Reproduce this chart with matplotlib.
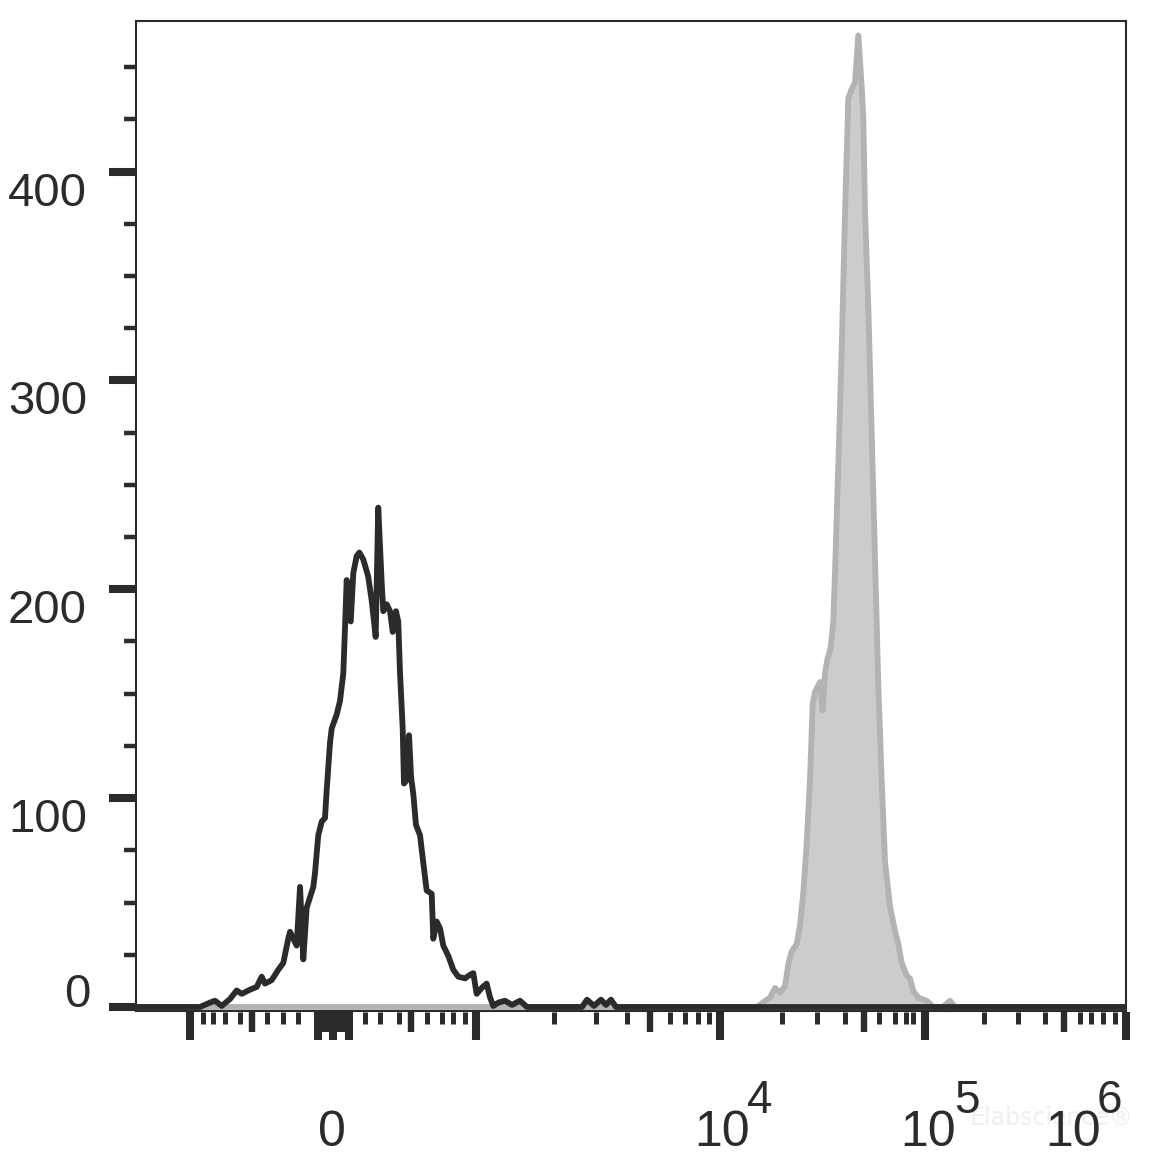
import matplotlib
matplotlib.use('Agg')
import matplotlib.pyplot as plt

# x is the display channel of the biexponential axis (0 .. 1000 across the plot)
black_x = [0, 64.6, 74.7, 79.8, 86.6, 94.9, 101.7, 106.8, 115.2, 121.9,
           127.0, 130.3, 137.1, 143.7, 148.8, 153.8, 155.6, 162.3, 165.7, 169.0,
           172.4, 179.1, 180.8, 184.1, 187.6, 190.9, 192.6, 196.0, 197.7, 202.7,
           206.1, 209.4, 211.1, 212.8, 216.9, 219.5, 222.9, 225.6, 229.6, 234.6,
           238.1, 242.1, 244.7, 248.2, 249.8, 253.2, 256.6, 259.3, 262.6, 264.9,
           266.7, 269.4, 270.7, 273.4, 275.8, 277.8, 280.1, 282.8, 286.9, 290.2,
           293.6, 298.7, 300.3, 303.7, 307.1, 310.4, 315.5, 320.5, 325.6, 332.3,
           337.4, 340.7, 344.1, 350.2, 354.2, 357.6, 360.9, 366.0, 372.7, 379.8,
           387.9, 394.9, 450.5, 455.6, 462.6, 469.7, 474.7, 479.8, 484.8, 1000]
black_y = [0, 0, 2.1, 3.0, 0.5, 3.8, 7.9, 6.3, 8.3, 9.6,
           14.5, 11.2, 12.9, 17.8, 21.1, 32.7, 36.0, 29.4, 57.5, 22.8,
           47.5, 57.5, 64.1, 82.2, 88.8, 90.5, 103.7, 126.8, 133.4, 140.0,
           146.6, 159.8, 181.3, 204.4, 184.6, 207.7, 215.9, 217.6, 214.3, 206.0,
           194.5, 177.2, 239.1, 202.7, 189.5, 192.8, 189.5, 179.6, 189.5, 184.6,
           159.8, 133.4, 107.0, 108.6, 130.1, 110.3, 102.0, 87.2, 82.2, 69.0,
           55.8, 54.2, 32.7, 40.9, 37.6, 29.4, 24.4, 17.8, 14.5, 13.7,
           15.4, 16.2, 6.3, 9.6, 11.2, 4.6, 0.5, 2.1, 3.0, 1.0,
           3.0, 0, 0, 3.5, 0.5, 3.5, 1.0, 3.5, 0, 0]

gray_x = [0, 627.0, 640.4, 645.5, 650.5, 655.6, 658.9, 662.3, 667.4, 670.7,
          674.0, 677.5, 680.8, 683.5, 685.9, 690.9, 693.6, 696.0, 698.3, 701.7,
          704.3, 706.1, 709.4, 712.8, 716.2, 719.5, 722.9, 726.3, 729.6, 733.0,
          734.6, 736.4, 739.7, 743.1, 746.5, 749.8, 753.2, 756.6, 761.6, 766.7,
          770.0, 773.4, 778.5, 781.8, 785.2, 790.2, 798.7, 805.4, 815.0, 822.2,
          827.3, 1000]
gray_y = [0, 0, 4.5, 9.1, 6.9, 10.0, 20.5, 26.6, 30.2, 39.3,
          54.4, 78.5, 108.8, 145.0, 151.0, 155.6, 142.0, 160.1, 166.2, 172.2,
          184.3, 208.4, 259.8, 314.2, 380.6, 435.0, 439.6, 442.6, 465.2, 441.0,
          426.0, 380.6, 335.3, 274.9, 214.5, 154.1, 108.8, 69.5, 48.3, 36.3,
          30.2, 21.1, 15.1, 13.6, 7.6, 4.5, 3.0, 0, 0, 3.0,
          0, 0]

# x axis ticks (decades long, fives medium, the rest short)
long_ticks = [54.5, 183.8, 199.0, 215.2, 343.4, 589.9, 797.0, 1000.0]
mid_ticks = [117.2, 277.8, 519.2, 735.4, 937.4,
             184.9, 186.4, 188.0, 189.6, 191.2, 192.7, 194.3, 195.9, 197.4,
             200.6, 202.1, 203.7, 205.3, 206.9, 208.4, 210.0, 211.6, 213.1]
short_ticks = [67.2, 77.8, 89.9, 105.1, 132.3, 148.5, 163.6,
               231.3, 246.5, 265.7, 293.9, 309.1, 320.2, 332.3,
               422.2, 464.6, 496.0, 539.4, 554.5, 567.2, 578.8,
               653.0, 687.9, 716.2, 750.5, 766.7, 777.8, 784.8,
               856.6, 890.9, 918.2, 953.5, 964.6, 976.8, 988.9]

zero_label_x = 198.0
decade_label_x = [591.9, 800.0, 946.1]
decade_exp_x = [617.5, 826.0, 970.5]
decade_exps = ['4', '5', '6']

y_labels = [100, 200, 300, 400]

dark = '#2b2b2b'

fig = plt.figure(figsize=(11.6, 11.62), dpi=100)
ax = fig.add_axes([136 / 1160, 1 - 1011 / 1162, 990 / 1160, 990 / 1162])

ax.fill_between(gray_x, gray_y, 0, color='#cccccc', lw=0, zorder=2)
ax.plot(gray_x, gray_y, color='#b3b3b3', lw=4.2, zorder=3)
ax.plot(black_x, black_y, color=dark, lw=4.2, zorder=4)

ax.set_xlim(0, 1000)
ax.set_ylim(-1.92, 472.1)

for s in ['left', 'top', 'right', 'bottom']:
    ax.spines[s].set_linewidth(1.5)
    ax.spines[s].set_color(dark)

# y ticks
ax.set_yticks([0, 100, 200, 300, 400], labels=[])
ax.set_yticks([25, 50, 75, 125, 150, 175, 225, 250, 275, 325, 350, 375, 425, 450], minor=True)
ax.tick_params(axis='y', which='major', length=19.4, width=5.8, color=dark)
ax.tick_params(axis='y', which='minor', length=8.6, width=3.2, color=dark)
ax.set_xticks([])

yt = ax.get_yaxis_transform()
for v in y_labels:
    ax.text(-0.0495, v, str(v), transform=yt, ha='right', va='top',
            fontsize=34, color=dark, family='Liberation Sans')
ax.text(-0.0455, 0, '0', transform=yt, ha='right', va='baseline',
        fontsize=34, color=dark, family='Liberation Sans')

# x ticks hanging below the axis
xt = ax.get_xaxis_transform()
ax.vlines(long_ticks, -29 / 990, -0.0015, transform=xt, clip_on=False, lw=5.8, color=dark)
ax.vlines(mid_ticks, -21 / 990, -0.0015, transform=xt, clip_on=False, lw=4.6, color=dark)
ax.vlines(short_ticks, -13 / 990, -0.0015, transform=xt, clip_on=False, lw=3.6, color=dark)

ax.text(zero_label_x, -0.1365, '0', transform=xt, ha='center', va='baseline',
        fontsize=36, color=dark, family='Liberation Sans')
for x, xe, e in zip(decade_label_x, decade_exp_x, decade_exps):
    ax.text(x, -0.1365, '10', transform=xt, ha='center', va='baseline',
            fontsize=36, color=dark, family='Liberation Sans')
    ax.text(xe, -0.1030, e, transform=xt, ha='left', va='baseline',
            fontsize=33, color=dark, family='Liberation Sans')

ax.text(925, -0.108, 'Elabscience\u00ae', transform=xt, ha='center', va='center',
        fontsize=17, color='#efefef', zorder=0)

fig.savefig('out.png', dpi=100)
